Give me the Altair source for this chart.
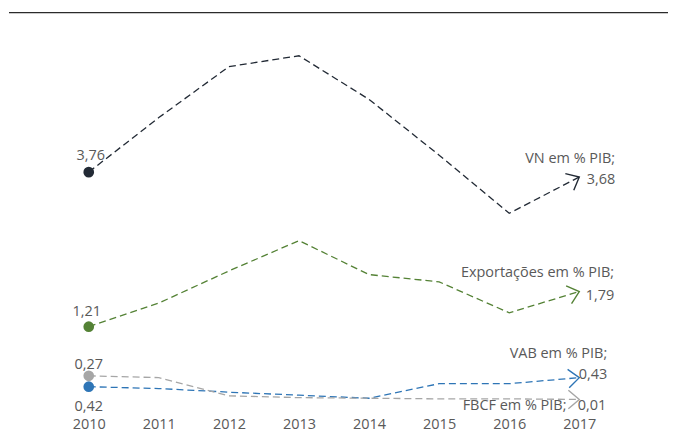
import altair as alt
import pandas as pd

years = [2010, 2011, 2012, 2013, 2014, 2015, 2016, 2017]
series_names = ["VN", "Exportações", "VAB", "FBCF"]
vn = [3.76, 4.66, 5.50, 5.68, 4.96, 4.04, 3.08, 3.68]
exportacoes = [1.21, 1.60, 2.13, 2.63, 2.07, 1.95, 1.44, 1.79]
vab = [0.22, 0.19, 0.13, 0.08, 0.03, 0.27, 0.27, 0.37]
fbcf = [0.40, 0.37, 0.07, 0.04, 0.03, 0.02, 0.02, 0.01]
colors = ["#222a35", "#548235", "#2e75b6", "#a6a6a6"]

start_labels = ["3,76", "1,21", "0,42", "0,27"]
end_names = ["VN em % PIB;", "Exportações em % PIB;", "VAB em % PIB;",
             "FBCF em % PIB;\u00a0\u00a0\u00a00,01"]
end_values = ["3,68", "1,79", "0,43", ""]

values = [vn, exportacoes, vab, fbcf]
rows = []
for name, vals in zip(series_names, values):
    for y, v in zip(years, vals):
        rows.append({"series": name, "year": y, "v": v})
df = pd.DataFrame(rows)

W, H = 661, 403
xscale = alt.Scale(domain=[2008.862, 2018.266], nice=False, zero=False)
yscale = alt.Scale(domain=[-0.171, 6.457], nice=False, zero=False)
cscale = alt.Scale(domain=series_names, range=colors)

X = alt.X("year:Q", scale=xscale,
          axis=alt.Axis(values=years, format="d", title=None, grid=False, domain=False,
                        ticks=False, tickSize=0, labelFontSize=14.5, labelColor="#595959",
                        labelPadding=7, labelFont="Open Sans", labelFontWeight="normal",
                        labelFlush=False))
Y = alt.Y("v:Q", scale=yscale, axis=None)
C = alt.Color("series:N", scale=cscale, legend=None)

base = alt.Chart(df)

lines = base.mark_line(strokeDash=[7, 4], strokeWidth=1.3).encode(x=X, y=Y, color=C, detail="series:N")
dots = base.transform_filter(alt.datum.year == 2010).mark_point(
    filled=True, size=115, opacity=1, shape="circle").encode(x=X, y=Y, color=C)

arrow_angles = {"VN": 333, "Exportações": 343, "VAB": 355, "FBCF": 0}
arrows = []
for name in series_names:
    arrows.append(
        base.transform_filter((alt.datum.year == 2017) & (alt.datum.series == name)).mark_point(
            shape="M-1,-0.85L0,0L-1,0.85", filled=False, size=480, strokeWidth=1.4, opacity=1,
            angle=arrow_angles[name]).encode(x=X, y=Y, color=C)
    )

txt_style = dict(font="Open Sans", fontSize=14.5, color="#595959")

def label(name, year, text, dx, dy, align):
    return base.transform_filter((alt.datum.year == year) & (alt.datum.series == name)).mark_text(
        dx=dx, dy=dy, align=align, baseline="middle", **txt_style
    ).encode(x=X, y=Y, text=alt.value(text))

start_offsets = {"VN": (2, -16), "Exportações": (-2, -15), "VAB": (0, 20), "FBCF": (0, -11)}
end_name_offsets = {"VN": (36, -18), "Exportações": (35, -19), "VAB": (28, -24), "FBCF": (27, 7)}
end_value_offsets = {"VN": (36, 3), "Exportações": (35, 4), "VAB": (28, -3), "FBCF": (27, 7)}

texts = []
for i, name in enumerate(series_names):
    sx, sy = start_offsets[name]
    texts.append(label(name, 2010, start_labels[i], sx, sy, "center"))
    nx, ny = end_name_offsets[name]
    texts.append(label(name, 2017, end_names[i], nx, ny, "right"))
    if end_values[i]:
        vx, vy = end_value_offsets[name]
        texts.append(label(name, 2017, end_values[i], vx, vy, "right"))

top_rule = alt.Chart(pd.DataFrame({"a": [0]})).mark_rule(color="#2b2b2b", strokeWidth=1.2).encode(
    x=alt.value(0), x2=alt.value(W), y=alt.value(4))

chart = alt.layer(top_rule, lines, dots, *arrows, *texts).properties(
    width=W, height=H, padding=0
).configure_view(stroke=None)

chart.save("out.html", embed_options={"renderer": "svg", "actions": False})
